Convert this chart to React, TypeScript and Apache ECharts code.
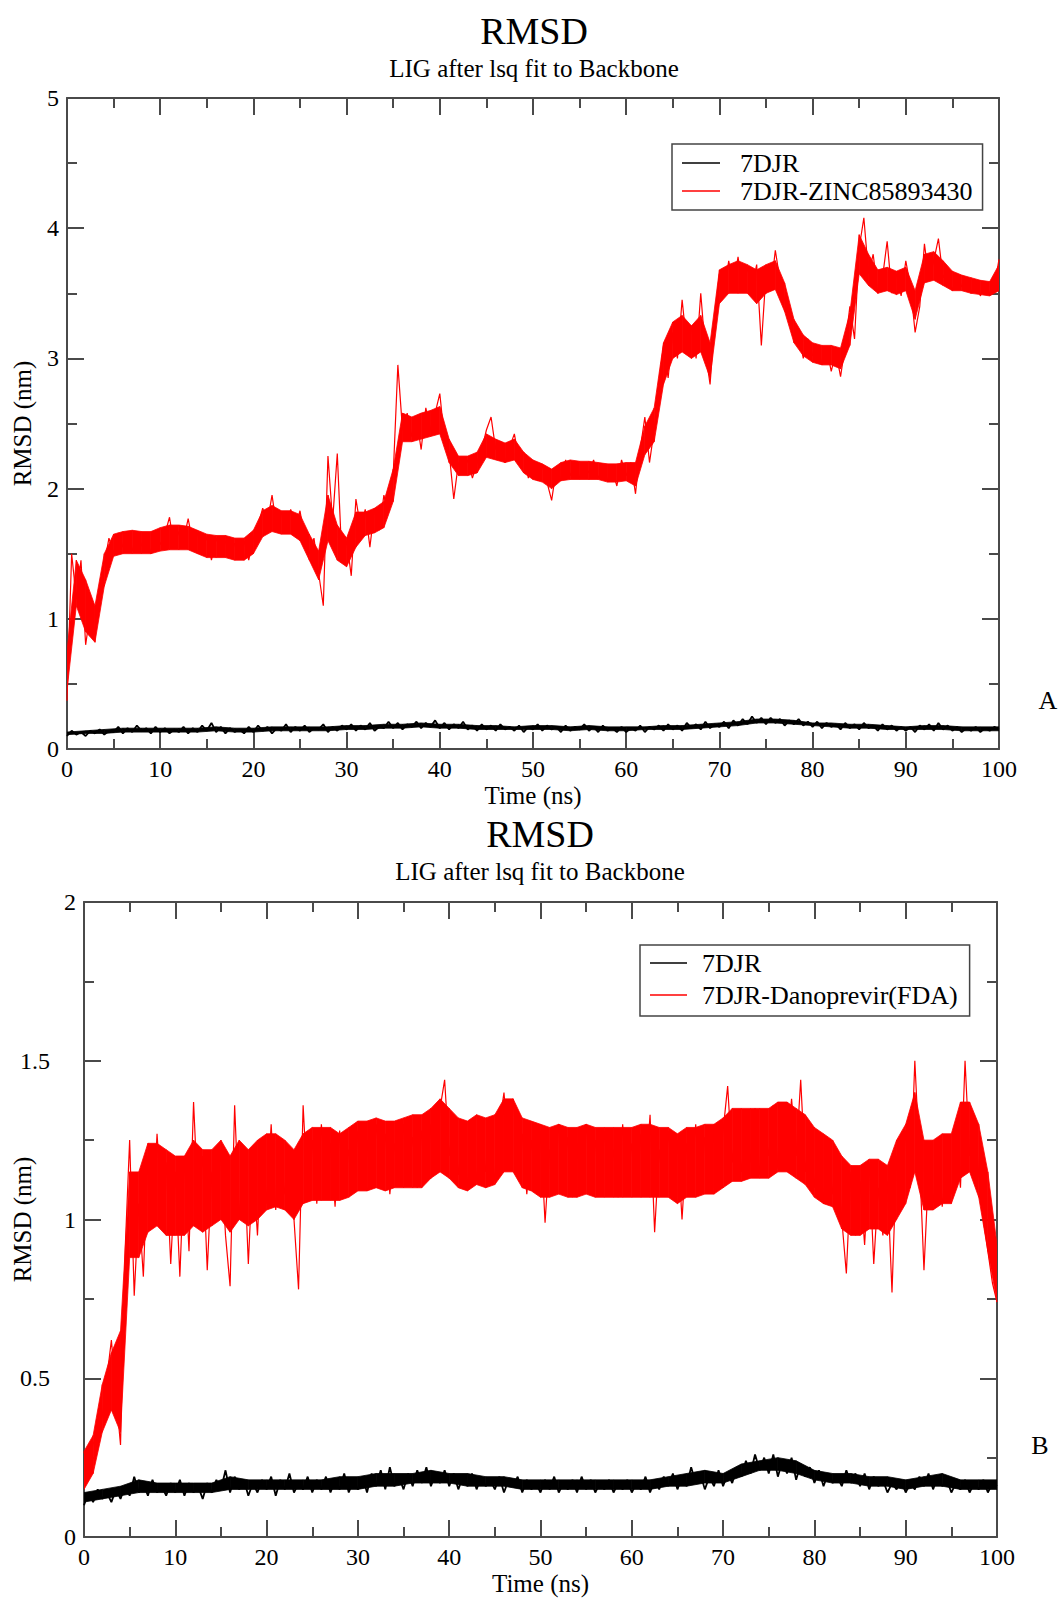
import React, { useEffect, useRef } from "react";
import * as echarts from "echarts";

const FONT = "Liberation Serif";
const STEP_NS = 0.5;
const BAND_STEP_NS = 1;
const APO_BAND_STEP_NS = 2;
const X_MIN = 0;
const X_MAX = 100;
const X_INTERVAL = 10;
const Y_MAX_A = 5;
const Y_INTERVAL_A = 1;
const Y_MAX_B = 2;
const Y_INTERVAL_B = 0.5;

const TITLE = "RMSD";
const SUBTITLE = "LIG after lsq fit to Backbone";
const X_NAME = "Time (ns)";
const Y_NAME = "RMSD (nm)";
const NAME_APO = "7DJR";
const NAME_LIG_A = "7DJR-ZINC85893430";
const NAME_LIG_B = "7DJR-Danoprevir(FDA)";

// Panel A trace, every 0.5 ns (0 … 100 ns)
const ligandA = [
  0.37, 1.5, 1.15, 1.45, 0.8, 1.05, 0.88, 1.25, 1.42, 1.62,
  1.5, 1.66, 1.55, 1.64, 1.52, 1.67, 1.56, 1.63, 1.5, 1.68,
  1.57, 1.65, 1.78, 1.55, 1.67, 1.6, 1.77, 1.58, 1.66, 1.52,
  1.63, 1.45, 1.62, 1.52, 1.6, 1.47, 1.58, 1.5, 1.6, 1.45,
  1.62, 1.72, 1.85, 1.74, 1.95, 1.7, 1.82, 1.66, 1.84, 1.7,
  1.83, 1.62, 1.5, 1.62, 1.35, 1.1, 2.25, 1.75, 2.27, 1.45,
  1.6, 1.33, 1.92, 1.7, 1.84, 1.55, 1.85, 1.68, 1.95, 1.82,
  2.1, 2.95, 2.45, 2.58, 2.4, 2.54, 2.3, 2.62, 2.45, 2.58,
  2.73, 2.38, 2.28, 1.92, 2.2, 2.12, 2.22, 2.08, 2.2, 2.3,
  2.45, 2.55, 2.3, 2.36, 2.2, 2.32, 2.42, 2.22, 2.28, 2.08,
  2.2, 2.06, 2.18, 2.05, 1.91, 2.15, 2.06, 2.22, 2.1, 2.2,
  2.08, 2.18, 2.12, 2.22, 2.08, 2.16, 2.06, 2.14, 2.02, 2.22,
  2.1, 2.2, 1.96, 2.3, 2.55, 2.2, 2.45, 2.8, 3.1, 2.85,
  3.2, 3.0, 3.45, 3.1, 3.25, 3.0, 3.5, 3.05, 2.8, 3.3,
  3.65, 3.5, 3.75, 3.55, 3.78, 3.52, 3.7, 3.55, 3.72, 3.1,
  3.65, 3.52, 3.83, 3.6, 3.45, 3.3, 3.15, 3.2, 3.0, 3.15,
  3.02, 3.1, 2.95, 3.08, 2.9, 3.05, 2.86, 3.1, 3.4, 3.15,
  3.85, 4.08, 3.65, 3.8, 3.5, 3.62, 3.9, 3.5, 3.65, 3.48,
  3.75, 3.55, 3.2, 3.4, 3.88, 3.6, 3.75, 3.92, 3.62, 3.68,
  3.52, 3.65, 3.55, 3.6, 3.5, 3.58, 3.48, 3.57, 3.5, 3.55,
  3.76,
];

// Panel A dense core of the ligand trace, every 1 ns (lower / upper edge)
const ligandA_lo = [
  0.45, 1.1, 0.9, 0.82, 1.25, 1.48, 1.5, 1.5, 1.5, 1.5,
  1.52, 1.53, 1.53, 1.53, 1.5, 1.47, 1.47, 1.47, 1.45, 1.45,
  1.5, 1.63, 1.67, 1.65, 1.65, 1.6, 1.45, 1.3, 1.6, 1.45,
  1.4, 1.55, 1.64, 1.66, 1.7, 1.9, 2.36, 2.36, 2.38, 2.4,
  2.42, 2.2, 2.1, 2.1, 2.12, 2.24, 2.22, 2.2, 2.22, 2.12,
  2.07, 2.05, 2.0, 2.06, 2.07, 2.07, 2.07, 2.07, 2.05, 2.05,
  2.06, 2.02, 2.26, 2.36, 2.8, 3.0, 3.05, 3.0, 3.05, 2.85,
  3.42, 3.5, 3.5, 3.5, 3.42, 3.5, 3.53, 3.36, 3.12, 3.02,
  2.97, 2.95, 2.95, 2.92, 3.1, 3.65, 3.56, 3.5, 3.52, 3.49,
  3.52, 3.3, 3.58, 3.6, 3.56, 3.52, 3.52, 3.5, 3.49, 3.48,
  3.52,
];
const ligandA_hi = [
  0.75, 1.45, 1.3, 1.1, 1.5, 1.65, 1.67, 1.68, 1.67, 1.67,
  1.7, 1.72, 1.72, 1.71, 1.68, 1.65, 1.64, 1.64, 1.62, 1.62,
  1.68, 1.83, 1.87, 1.83, 1.83, 1.8, 1.65, 1.52, 1.95, 1.72,
  1.62, 1.82, 1.82, 1.85, 1.9, 2.15, 2.58, 2.55, 2.58, 2.6,
  2.63, 2.38, 2.25, 2.25, 2.28, 2.42, 2.38, 2.35, 2.38, 2.28,
  2.22, 2.19, 2.15, 2.2, 2.22, 2.21, 2.21, 2.2, 2.19, 2.19,
  2.2, 2.2, 2.48, 2.62, 3.12, 3.28, 3.33, 3.25, 3.33, 3.12,
  3.68, 3.72, 3.75, 3.72, 3.68, 3.72, 3.75, 3.58, 3.3, 3.18,
  3.12, 3.1, 3.1, 3.08, 3.35, 3.95, 3.8, 3.68, 3.7, 3.67,
  3.7, 3.52, 3.8, 3.82, 3.75, 3.67, 3.64, 3.62, 3.6, 3.59,
  3.72,
];

const apoA = [
  0.1, 0.14, 0.11, 0.13, 0.1, 0.14, 0.12, 0.15, 0.11, 0.14,
  0.13, 0.17, 0.12, 0.16, 0.13, 0.18, 0.14, 0.16, 0.12, 0.17,
  0.13, 0.16, 0.12, 0.15, 0.13, 0.17, 0.12, 0.16, 0.13, 0.18,
  0.14, 0.2, 0.13, 0.17, 0.12, 0.16, 0.13, 0.15, 0.12, 0.17,
  0.13, 0.18, 0.14, 0.17, 0.12, 0.16, 0.14, 0.19, 0.13, 0.17,
  0.14, 0.18, 0.13, 0.16, 0.15, 0.19, 0.13, 0.17, 0.14, 0.18,
  0.15, 0.19, 0.14, 0.18, 0.15, 0.2, 0.14, 0.17, 0.16, 0.21,
  0.16, 0.2, 0.15, 0.19, 0.17, 0.21, 0.16, 0.2, 0.17, 0.22,
  0.16, 0.2, 0.15, 0.19, 0.16, 0.21, 0.15, 0.18, 0.14, 0.19,
  0.15, 0.18, 0.14, 0.19, 0.15, 0.17, 0.14, 0.18, 0.13, 0.17,
  0.15, 0.19, 0.14, 0.18, 0.15, 0.17, 0.13, 0.18, 0.14, 0.17,
  0.15, 0.19, 0.14, 0.17, 0.13, 0.18, 0.14, 0.16, 0.13, 0.17,
  0.13, 0.16, 0.14, 0.18, 0.13, 0.17, 0.15, 0.18, 0.14, 0.19,
  0.15, 0.18, 0.14, 0.2, 0.16, 0.19, 0.15, 0.21, 0.16, 0.19,
  0.17, 0.21, 0.16, 0.22, 0.18, 0.23, 0.19, 0.25, 0.2, 0.24,
  0.19, 0.24, 0.2, 0.23, 0.18, 0.22, 0.19, 0.23, 0.18, 0.21,
  0.17, 0.21, 0.16, 0.2, 0.17, 0.19, 0.15, 0.2, 0.16, 0.19,
  0.15, 0.2, 0.16, 0.18, 0.14, 0.19, 0.15, 0.18, 0.14, 0.17,
  0.14, 0.17, 0.13, 0.18, 0.15, 0.19, 0.14, 0.2, 0.15, 0.18,
  0.14, 0.17, 0.13, 0.16, 0.14, 0.17, 0.13, 0.16, 0.14, 0.17,
  0.15,
];

// Panel A dense core of the apo trace, every 2 ns (lower / upper edge)
const apoA_lo = [
  0.11, 0.12, 0.12, 0.13, 0.13, 0.13, 0.13, 0.13, 0.14, 0.13,
  0.13, 0.14, 0.14, 0.14, 0.14, 0.15, 0.15, 0.16, 0.16, 0.17,
  0.16, 0.16, 0.15, 0.15, 0.15, 0.15, 0.15, 0.14, 0.15, 0.14,
  0.14, 0.15, 0.15, 0.15, 0.16, 0.17, 0.18, 0.2, 0.2, 0.19,
  0.18, 0.17, 0.16, 0.16, 0.15, 0.15, 0.15, 0.15, 0.14, 0.14,
  0.14,
];
const apoA_hi = [
  0.13, 0.14, 0.15, 0.16, 0.16, 0.16, 0.16, 0.16, 0.17, 0.16,
  0.16, 0.17, 0.17, 0.17, 0.17, 0.18, 0.18, 0.19, 0.19, 0.2,
  0.19, 0.19, 0.18, 0.18, 0.17, 0.18, 0.18, 0.17, 0.18, 0.17,
  0.17, 0.17, 0.18, 0.18, 0.19, 0.2, 0.21, 0.23, 0.23, 0.22,
  0.2, 0.2, 0.19, 0.19, 0.18, 0.17, 0.18, 0.18, 0.17, 0.17,
  0.17,
];

// Panel B trace, every 0.5 ns (0 … 100 ns)
const ligandB = [
  0.27, 0.2, 0.3, 0.28, 0.38, 0.5, 0.62, 0.45, 0.29, 0.9,
  1.25, 0.76, 1.05, 0.82, 1.2, 0.98, 1.27, 1.05, 1.18, 0.86,
  1.15, 0.82, 1.2, 0.9, 1.37, 1.05, 1.2, 0.84, 1.15, 1.02,
  1.22, 0.95, 0.79, 1.36, 1.0, 1.22, 0.86, 1.18, 0.95, 1.25,
  1.05, 1.3, 1.03, 1.2, 1.08, 1.22, 1.0, 0.78, 1.36, 1.08,
  1.25, 1.05, 1.3, 1.1, 1.24, 1.04, 1.28, 1.08, 1.22, 1.1,
  1.28, 1.12, 1.25, 1.1, 1.3, 1.15, 1.27, 1.08, 1.24, 1.12,
  1.3, 1.14, 1.26, 1.1, 1.28, 1.12, 1.3, 1.2, 1.35, 1.44,
  1.2, 1.32, 1.14, 1.28, 1.1, 1.25, 1.12, 1.3, 1.15, 1.27,
  1.12, 1.3, 1.4, 1.22, 1.38, 1.2, 1.27, 1.08, 1.25, 1.1,
  1.28, 0.99, 1.22, 1.08, 1.3, 1.12, 1.26, 1.07, 1.24, 1.1,
  1.3, 1.12, 1.25, 1.08, 1.28, 1.1, 1.22, 1.07, 1.3, 1.1,
  1.24, 1.08, 1.27, 1.12, 1.33, 0.96, 1.22, 1.08, 1.28, 1.1,
  1.25, 1.0, 1.24, 1.1, 1.3, 1.08, 1.26, 1.12, 1.3, 1.1,
  1.28, 1.42, 1.18, 1.32, 1.15, 1.3, 1.18, 1.35, 1.14, 1.3,
  1.2, 1.36, 1.16, 1.3, 1.22, 1.38, 1.2, 1.44, 1.15, 1.28,
  1.1, 1.26, 1.05, 1.24, 1.08, 1.2, 1.0, 0.83, 1.15, 0.95,
  1.12, 0.92, 1.18, 0.86, 1.1, 0.95, 1.12, 0.77, 1.2, 1.05,
  1.28, 1.1, 1.5, 1.2, 0.84, 1.15, 1.05, 1.22, 1.04, 1.2,
  1.08, 1.25, 1.1, 1.5, 1.2, 1.33, 1.14, 1.0, 0.9, 0.8,
  0.74,
];

// Panel B dense core of the ligand trace, every 1 ns (lower / upper edge)
const ligandB_lo = [
  0.15, 0.2, 0.33, 0.4, 0.33, 0.88, 0.88, 0.96, 0.98, 0.95,
  0.95, 0.95, 0.98, 0.96, 0.98, 1.0, 0.96, 1.0, 0.98, 1.0,
  1.03, 1.04, 1.03, 1.0, 1.05, 1.06, 1.06, 1.06, 1.06, 1.07,
  1.09, 1.09, 1.1, 1.09, 1.1, 1.1, 1.1, 1.1, 1.13, 1.15,
  1.13, 1.1, 1.09, 1.11, 1.1, 1.11, 1.15, 1.15, 1.1, 1.09,
  1.07, 1.07, 1.08, 1.07, 1.07, 1.08, 1.07, 1.07, 1.07, 1.07,
  1.07, 1.07, 1.07, 1.07, 1.07, 1.05, 1.07, 1.07, 1.08, 1.08,
  1.1, 1.12, 1.12, 1.13, 1.13, 1.13, 1.15, 1.15, 1.13, 1.11,
  1.07, 1.05, 1.04, 0.97, 0.95, 0.95, 0.97, 0.97, 0.95, 1.0,
  1.05, 1.15, 1.03, 1.03, 1.05, 1.05, 1.13, 1.15, 1.07, 0.9,
  0.74,
];
const ligandB_hi = [
  0.27, 0.32, 0.48, 0.58, 0.65, 1.15, 1.15, 1.24, 1.24, 1.22,
  1.2, 1.2, 1.25, 1.22, 1.22, 1.25, 1.2, 1.25, 1.22, 1.25,
  1.27, 1.27, 1.25, 1.22, 1.27, 1.29, 1.29, 1.29, 1.27, 1.29,
  1.31, 1.31, 1.32, 1.31, 1.31, 1.32, 1.33, 1.33, 1.35, 1.38,
  1.35, 1.32, 1.31, 1.33, 1.32, 1.33, 1.38, 1.38, 1.32, 1.31,
  1.3, 1.29, 1.3, 1.29, 1.29, 1.3, 1.29, 1.29, 1.29, 1.29,
  1.29, 1.3, 1.3, 1.29, 1.29, 1.27, 1.29, 1.29, 1.3, 1.3,
  1.32, 1.35, 1.35, 1.35, 1.35, 1.35, 1.37, 1.37, 1.35, 1.33,
  1.29, 1.27, 1.25, 1.2, 1.17, 1.17, 1.19, 1.19, 1.17, 1.25,
  1.3, 1.4, 1.25, 1.25, 1.27, 1.27, 1.37, 1.37, 1.3, 1.15,
  0.92,
];

const apoB = [
  0.1, 0.14, 0.11, 0.15, 0.12, 0.14, 0.11, 0.15, 0.12, 0.16,
  0.13, 0.19, 0.14, 0.17, 0.13, 0.18, 0.14, 0.16, 0.13, 0.17,
  0.14, 0.18, 0.13, 0.17, 0.14, 0.16, 0.12, 0.17, 0.14, 0.18,
  0.15, 0.21, 0.14, 0.19, 0.15, 0.18, 0.13, 0.17, 0.14, 0.18,
  0.15, 0.19, 0.13, 0.18, 0.15, 0.2, 0.14, 0.17, 0.15, 0.19,
  0.14, 0.18, 0.15, 0.19, 0.14, 0.18, 0.15, 0.2, 0.14, 0.18,
  0.15, 0.19, 0.14, 0.2, 0.16, 0.21, 0.15, 0.22, 0.16, 0.19,
  0.15, 0.2, 0.16, 0.21, 0.17, 0.22, 0.16, 0.2, 0.17, 0.21,
  0.16, 0.2, 0.15, 0.19, 0.16, 0.2, 0.15, 0.19, 0.16, 0.18,
  0.15, 0.19, 0.14, 0.18, 0.16, 0.19, 0.14, 0.18, 0.15, 0.17,
  0.14, 0.18, 0.15, 0.19, 0.14, 0.17, 0.15, 0.18, 0.14, 0.19,
  0.15, 0.18, 0.14, 0.17, 0.15, 0.18, 0.14, 0.17, 0.15, 0.18,
  0.14, 0.17, 0.15, 0.19, 0.14, 0.18, 0.15, 0.19, 0.16, 0.2,
  0.15, 0.19, 0.16, 0.22, 0.17, 0.2, 0.15, 0.19, 0.16, 0.21,
  0.16, 0.2, 0.17, 0.22, 0.19, 0.24, 0.2, 0.26, 0.21, 0.25,
  0.2, 0.26, 0.19, 0.24, 0.2, 0.25, 0.18, 0.23, 0.19, 0.22,
  0.17, 0.21, 0.16, 0.2, 0.17, 0.19, 0.16, 0.21, 0.17, 0.2,
  0.16, 0.2, 0.15, 0.19, 0.16, 0.18, 0.14, 0.17, 0.15, 0.18,
  0.14, 0.17, 0.15, 0.19, 0.16, 0.2, 0.15, 0.19, 0.16, 0.18,
  0.14, 0.17, 0.15, 0.18, 0.14, 0.17, 0.15, 0.18, 0.14, 0.17,
  0.16,
];

// Panel B dense core of the apo trace, every 2 ns (lower / upper edge)
const apoB_lo = [
  0.11, 0.12, 0.13, 0.14, 0.14, 0.14, 0.14, 0.14, 0.15, 0.15,
  0.15, 0.15, 0.15, 0.15, 0.15, 0.15, 0.16, 0.16, 0.17, 0.17,
  0.17, 0.16, 0.16, 0.16, 0.15, 0.15, 0.15, 0.15, 0.15, 0.15,
  0.15, 0.15, 0.16, 0.16, 0.17, 0.17, 0.19, 0.21, 0.21, 0.2,
  0.18, 0.17, 0.17, 0.16, 0.16, 0.15, 0.16, 0.16, 0.15, 0.15,
  0.15,
];
const apoB_hi = [
  0.14, 0.15, 0.16, 0.18, 0.17, 0.17, 0.17, 0.17, 0.19, 0.18,
  0.18, 0.18, 0.18, 0.18, 0.19, 0.19, 0.2, 0.2, 0.2, 0.21,
  0.2, 0.2, 0.19, 0.19, 0.18, 0.18, 0.18, 0.18, 0.18, 0.18,
  0.18, 0.18, 0.19, 0.2, 0.21, 0.2, 0.23, 0.24, 0.25, 0.24,
  0.21, 0.2, 0.2, 0.19, 0.19, 0.18, 0.19, 0.2, 0.18, 0.18,
  0.18,
];

const toPairs = (vals: number[], step: number) =>
  vals.map((v, i) => [i * step, v]);

const AXIS_COLOR = "#4a4a4a";
const axisLineStyle = { color: AXIS_COLOR, width: 2 };

function makeX(gridIndex: number, withLabels: boolean, nameGap: number) {
  return {
    type: "value",
    gridIndex,
    min: X_MIN,
    max: X_MAX,
    interval: X_INTERVAL,
    position: withLabels ? "bottom" : "top",
    name: withLabels ? X_NAME : "",
    nameLocation: "middle",
    nameGap,
    nameMoveOverlap: false,
    nameTextStyle: { fontFamily: FONT, fontSize: 25, color: "#000" },
    axisLine: { show: true, onZero: false, lineStyle: axisLineStyle },
    axisTick: { show: true, inside: true, length: 17, lineStyle: axisLineStyle },
    minorTick: { show: true, splitNumber: 2, length: 10, lineStyle: axisLineStyle },
    splitLine: { show: false },
    minorSplitLine: { show: false },
    axisLabel: {
      show: withLabels,
      fontFamily: FONT,
      fontSize: 24,
      color: "#000",
      margin: 8,
    },
  };
}

function makeY(
  gridIndex: number,
  withLabels: boolean,
  max: number,
  interval: number,
  nameGap: number
) {
  return {
    type: "value",
    gridIndex,
    min: 0,
    max,
    interval,
    position: withLabels ? "left" : "right",
    name: withLabels ? Y_NAME : "",
    nameLocation: "middle",
    nameGap,
    nameRotate: 90,
    nameMoveOverlap: false,
    nameTextStyle: { fontFamily: FONT, fontSize: 25, color: "#000" },
    axisLine: { show: true, onZero: false, lineStyle: axisLineStyle },
    axisTick: { show: true, inside: true, length: 17, lineStyle: axisLineStyle },
    minorTick: { show: true, splitNumber: 2, length: 10, lineStyle: axisLineStyle },
    splitLine: { show: false },
    minorSplitLine: { show: false },
    axisLabel: {
      show: withLabels,
      fontFamily: FONT,
      fontSize: 24,
      color: "#000",
      margin: 8,
      formatter: (v: number) =>
        Number.isInteger(v) ? `{i|${v}}` : `{d|${v}}`,
      rich: {
        i: { fontFamily: FONT, fontSize: 24, color: "#000" },
        d: { fontFamily: FONT, fontSize: 24, color: "#000", padding: [0, 26, 0, 0] },
      },
    },
  };
}

function textEl(text: string, x: number, y: number, size: number) {
  return {
    type: "text",
    x,
    y,
    style: {
      text,
      font: `${size}px ${FONT}`,
      fill: "#000",
      textAlign: "center",
      textVerticalAlign: "middle",
    },
  };
}

// Filled dense core between lower and upper edges, drawn through the axes' scales.
function bandSeries(
  id: string,
  axis: number,
  lo: number[],
  hi: number[],
  step: number,
  color: string
) {
  return {
    name: id,
    type: "custom",
    xAxisIndex: axis,
    yAxisIndex: axis,
    silent: true,
    z: 1,
    clip: true,
    encode: { x: 0, y: [1, 2] },
    data: lo.map((v, i) => [i * step, v, hi[i]]),
    renderItem: (params: any, api: any) => {
      const i = params.dataIndex;
      if (i >= lo.length - 1) return null;
      const t0 = i * step;
      const t1 = (i + 1) * step;
      const points = [
        api.coord([t0, lo[i]]),
        api.coord([t1, lo[i + 1]]),
        api.coord([t1, hi[i + 1]]),
        api.coord([t0, hi[i]]),
      ];
      return {
        type: "polygon",
        shape: { points },
        style: { fill: color, stroke: color, lineWidth: 0.8 },
      };
    },
  };
}

function traceSeries(
  name: string,
  axis: number,
  vals: number[],
  color: string,
  width: number
) {
  return {
    name,
    type: "line",
    xAxisIndex: axis,
    yAxisIndex: axis,
    data: toPairs(vals, STEP_NS),
    symbol: "none",
    z: 2,
    lineStyle: { color, width },
    itemStyle: { color },
  };
}

function legendFor(
  names: string[],
  left: number,
  top: number,
  padding: number[],
  itemWidth: number,
  lineHeight: number,
  textGap: number
) {
  return {
    data: names,
    orient: "vertical",
    left,
    top,
    padding,
    icon: "rect",
    itemWidth,
    itemHeight: 1.5,
    itemGap: 0,
    backgroundColor: "#fff",
    borderColor: "#444",
    borderWidth: 1.5,
    selectedMode: false,
    textStyle: {
      fontFamily: FONT,
      fontSize: 26,
      color: "#000",
      lineHeight,
      padding: [0, 0, 0, textGap],
    },
  };
}

export default function App() {
  const ref = useRef<HTMLDivElement>(null);

  useEffect(() => {
    if (!ref.current) return;
    const chart = echarts.init(ref.current, undefined, { renderer: "svg" });
    const option = {
      animation: false,
      backgroundColor: "#fff",
      textStyle: { fontFamily: FONT },
      grid: [
        { left: 67, top: 98, width: 932, height: 651, containLabel: false, outerBoundsMode: "none" },
        { left: 84, top: 902, width: 913, height: 635, containLabel: false, outerBoundsMode: "none" },
      ],
      xAxis: [
        makeX(0, true, 34),
        makeX(0, false, 0),
        makeX(1, true, 34),
        makeX(1, false, 0),
      ],
      yAxis: [
        makeY(0, true, Y_MAX_A, Y_INTERVAL_A, 32),
        makeY(0, false, Y_MAX_A, Y_INTERVAL_A, 0),
        makeY(1, true, Y_MAX_B, Y_INTERVAL_B, 49),
        makeY(1, false, Y_MAX_B, Y_INTERVAL_B, 0),
      ],
      legend: [
        legendFor([NAME_APO, NAME_LIG_A], 672, 144, [5, 10, 5, 10], 38, 28, 15),
        legendFor([NAME_APO, NAME_LIG_B], 640, 945, [2, 12, 5, 10], 37, 32, 10),
      ],
      series: [
        bandSeries("coreA", 0, ligandA_lo, ligandA_hi, BAND_STEP_NS, "#ff0000"),
        traceSeries(NAME_LIG_A, 0, ligandA, "#ff0000", 1.2),
        bandSeries("apoCoreA", 0, apoA_lo, apoA_hi, APO_BAND_STEP_NS, "#000000"),
        traceSeries(NAME_APO, 0, apoA, "#000000", 1.8),
        bandSeries("coreB", 2, ligandB_lo, ligandB_hi, BAND_STEP_NS, "#ff0000"),
        traceSeries(NAME_LIG_B, 2, ligandB, "#ff0000", 1.2),
        bandSeries("apoCoreB", 2, apoB_lo, apoB_hi, APO_BAND_STEP_NS, "#000000"),
        traceSeries(NAME_APO, 2, apoB, "#000000", 1.8),
      ],
      graphic: [
        textEl(TITLE, 534, 31, 38),
        textEl(SUBTITLE, 534, 68, 25),
        textEl(TITLE, 540, 834, 38),
        textEl(SUBTITLE, 540, 871, 25),
        textEl("A", 1048, 700, 26),
        textEl("B", 1040, 1445, 26),
      ],
    };
    chart.setOption(option as any);
    return () => chart.dispose();
  }, []);

  return (
    <div
      ref={ref}
      style={{ position: "absolute", left: 0, top: 0, width: 1062, height: 1598 }}
    />
  );
}
